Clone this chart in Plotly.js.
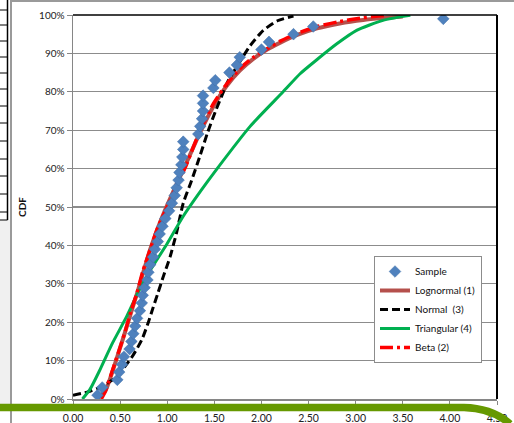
<!DOCTYPE html>
<html>
<head>
<meta charset="utf-8">
<script src="https://cdn.plot.ly/plotly-3.0.1.min.js"></script>
<style>
html,body{margin:0;padding:0;background:#fff;}
#chart{width:514px;height:423px;}
</style>
</head>
<body>
<div id="chart"></div>
<script>
// ---- Data ----
const sampleX = [0.26,0.31,0.47,0.49,0.52,0.54,0.60,0.62,0.64,0.66,0.68,0.71,0.73,0.74,0.76,0.79,0.80,0.82,0.85,0.87,0.90,0.92,0.95,0.98,1.02,1.05,1.08,1.10,1.12,1.13,1.15,1.16,1.17,1.17,1.33,1.35,1.37,1.38,1.38,1.38,1.49,1.51,1.66,1.74,1.77,2.00,2.08,2.34,2.55,3.93];
const sampleCDF = [0.01,0.03,0.05,0.07,0.09,0.11,0.13,0.15,0.17,0.19,0.21,0.23,0.25,0.27,0.29,0.31,0.33,0.35,0.37,0.39,0.41,0.43,0.45,0.47,0.49,0.51,0.53,0.55,0.57,0.59,0.61,0.63,0.65,0.67,0.69,0.71,0.73,0.75,0.77,0.79,0.81,0.83,0.85,0.87,0.89,0.91,0.93,0.95,0.97,0.99];

const lognX = [0.25,0.34,0.41,0.48,0.55,0.62,0.68,0.74,0.82,0.90,1.00,1.10,1.20,1.35,1.49,1.63,1.77,1.91,2.06,2.20,2.38,2.59,2.83,3.08,3.29,3.50];
const lognCDF = [0.0,0.02,0.065,0.118,0.172,0.228,0.275,0.325,0.39,0.445,0.505,0.56,0.613,0.695,0.762,0.815,0.855,0.885,0.91,0.928,0.948,0.965,0.978,0.987,0.992,0.996];

const normX = [0.00,0.15,0.29,0.37,0.47,0.55,0.64,0.73,0.80,0.85,0.90,0.96,1.03,1.10,1.17,1.26,1.35,1.43,1.51,1.58,1.65,1.77,1.88,2.02,2.17,2.34];
const normCDF = [0.01,0.018,0.031,0.042,0.058,0.084,0.115,0.154,0.20,0.238,0.275,0.32,0.37,0.434,0.51,0.57,0.635,0.695,0.748,0.79,0.83,0.878,0.92,0.96,0.985,0.997];

const triX = [0.10,0.18,0.29,0.42,0.57,0.69,0.82,1.00,1.17,1.35,1.53,1.88,2.23,2.41,2.60,2.80,3.01,3.29,3.58];
const triCDF = [0.0,0.025,0.078,0.146,0.215,0.277,0.335,0.405,0.476,0.54,0.60,0.71,0.80,0.847,0.886,0.925,0.96,0.986,0.999];

const betaX = [0.30,0.34,0.41,0.48,0.55,0.62,0.68,0.74,0.82,0.90,1.00,1.10,1.20,1.35,1.49,1.63,1.77,1.91,2.06,2.20,2.38,2.59,2.83,3.08,3.30];
const betaCDF = [0.0,0.018,0.068,0.12,0.173,0.233,0.277,0.332,0.39,0.447,0.50,0.554,0.608,0.70,0.769,0.82,0.86,0.889,0.912,0.932,0.952,0.97,0.983,0.993,0.999];

const names = ['Sample','Lognormal (1)','Normal\u00a0 (3)','Triangular (4)','Beta (2)'];
const xTicks = [0,0.5,1,1.5,2,2.5,3,3.5,4,4.5];

const FONT = 'Lato, "Liberation Sans", Arial, sans-serif';

const traces = [
  {x: lognX, y: lognCDF, name: names[1], mode:'lines', legendrank: 2,
   line:{color:'#B5504C', width:4, shape:'spline', smoothing:0.6}},
  {x: normX, y: normCDF, name: names[2], mode:'lines', legendrank: 3,
   line:{color:'#000000', width:3, dash:'8px,4px', shape:'spline', smoothing:0.6}},
  {x: triX, y: triCDF, name: names[3], mode:'lines', legendrank: 4,
   line:{color:'#00B050', width:3, shape:'spline', smoothing:0.6}},
  {x: betaX, y: betaCDF, name: names[4], mode:'lines', legendrank: 5,
   line:{color:'#FF0000', width:3.5, dash:'13px,4px,3px,4px', shape:'spline', smoothing:0.6}},
  {x: sampleX, y: sampleCDF, name: names[0], mode:'markers', legendrank: 1,
   marker:{symbol:'diamond', size:9, color:'#4F81BD', line:{color:'#3F6FA8', width:0.5}}}
];

// pixel -> paper helpers for decorative frame elements
const L=73, R=17, T=15, B=24, W=514, H=423;
const pw = W-L-R, ph = H-T-B;
const px = v => (v-L)/pw;
const py = v => (H-B-v)/ph;

const shapes = [
  {type:'line', xref:'paper', yref:'paper', x0:0, x1:1, y0:1, y1:1, line:{color:'#000', width:1.5}},
  {type:'line', xref:'paper', yref:'paper', x0:1, x1:1, y0:0, y1:1, line:{color:'#000', width:2}},
  {type:'rect', xref:'paper', yref:'paper', x0:px(0), x1:px(10), y0:py(405), y1:py(220), fillcolor:'#f0f0f0', line:{width:0}, layer:'below'},
  {type:'line', xref:'paper', yref:'paper', x0:px(11), x1:px(11), y0:py(423), y1:py(0), line:{color:'#9a9a9a', width:2}},
  {type:'line', xref:'paper', yref:'paper', x0:px(11), x1:px(514), y0:py(1), y1:py(1), line:{color:'#9a9a9a', width:2}},
  {type:'line', xref:'paper', yref:'paper', x0:px(7.5), x1:px(7.5), y0:py(220), y1:py(0), line:{color:'#000', width:1.5}}
];
const tableRows = [10,25,41,57,73,89,106,123,141,159,176,194,212,220];
tableRows.forEach(r => shapes.push({type:'line', xref:'paper', yref:'paper', x0:px(0), x1:px(7.5), y0:py(r), y1:py(r), line:{color:'#000', width:1}}));
shapes.push({type:'path', xref:'paper', yref:'paper', layer:'above',
  path:`M ${px(0)},${py(407.5)} L ${px(464)},${py(407.5)} Q ${px(492)},${py(408)} ${px(510)},${py(424)}`,
  line:{color:'#669900', width:7.5}});

const layout = {
  width: W, height: H,
  margin:{l:L, r:R, t:T, b:B, pad:0},
  paper_bgcolor:'#ffffff', plot_bgcolor:'#ffffff',
  font:{family:FONT, size:10, color:'#222'},
  showlegend:true,
  legend:{x:px(374), y:py(256), xanchor:'left', yanchor:'top',
    bgcolor:'#ffffff', bordercolor:'#8c8c8c', borderwidth:1,
    font:{family:FONT, size:10, color:'#111'}, tracegroupgap:0},
  xaxis:{range:[0,4.5], tickvals:xTicks, tickformat:'.2f', ticks:'outside', ticklen:4,
    tickcolor:'#868686', showline:true, linecolor:'#868686', linewidth:1.5,
    showgrid:false, zeroline:false, ticklabelstandoff:5,
    tickfont:{family:FONT, size:10.5, color:'#222'}},
  yaxis:{range:[0,1], dtick:0.1, tickformat:'.0%', ticks:'outside', ticklen:5,
    tickcolor:'#868686', showline:true, linecolor:'#868686', linewidth:1.5,
    showgrid:true, gridcolor:'#8c8c8c', gridwidth:1.3, zeroline:false,
    tickfont:{family:FONT, size:10, color:'#222'},
    title:{text:'CDF', standoff:10, font:{family:FONT, size:10, color:'#111', weight:'bold'}}},
  shapes: shapes
};

Plotly.newPlot('chart', traces, layout, {displayModeBar:false, staticPlot:true});
</script>
</body>
</html>
